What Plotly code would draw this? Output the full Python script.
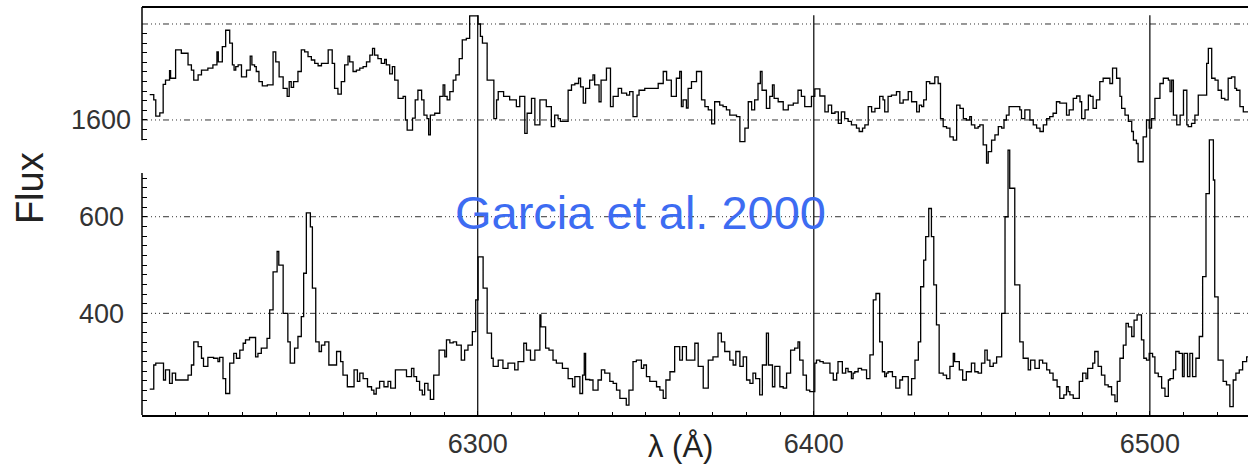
import plotly.graph_objects as go

# ---------------- data (step spectra, wavelength = start of each step) -------------
top_wave = [6202.4, 6203.6, 6204.2, 6205.4, 6206.4, 6207.1, 6208.3, 6208.6, 6210.1, 6211.8,
            6213.8, 6214.8, 6215.5, 6216.8, 6217.8, 6219.7, 6221.2, 6222.4, 6222.8, 6224.0,
            6225.0, 6226.2, 6227.0, 6227.5, 6228.0, 6228.7, 6229.7, 6231.2, 6232.3, 6232.8,
            6233.6, 6234.1, 6234.9, 6235.9, 6237.4, 6239.1, 6239.9, 6240.9, 6242.1, 6243.3,
            6243.9, 6244.5, 6245.2, 6246.5, 6247.5, 6248.5, 6249.5, 6250.5, 6251.5, 6252.5,
            6253.5, 6255.5, 6256.7, 6257.4, 6258.4, 6259.4, 6260.4, 6261.4, 6261.9, 6262.9,
            6263.9, 6264.9, 6265.9, 6266.9, 6267.9, 6268.7, 6269.3, 6270.3, 6271.3, 6272.3,
            6272.8, 6273.8, 6274.6, 6275.3, 6276.3, 6277.8, 6278.5, 6279.0, 6280.6, 6281.4,
            6282.2, 6283.3, 6284.0, 6284.9, 6285.4, 6285.9, 6287.2, 6288.7, 6289.7, 6290.2,
            6290.9, 6291.7, 6292.7, 6293.5, 6294.5, 6295.4, 6296.6, 6297.6, 6300.1, 6300.8,
            6301.4, 6302.8, 6304.8, 6305.6, 6306.1, 6307.7, 6309.5, 6311.5, 6312.5, 6314.0,
            6314.7, 6316.0, 6317.0, 6318.5, 6320.4, 6321.9, 6322.9, 6323.9, 6324.6, 6326.9,
            6327.9, 6328.9, 6330.0, 6330.6, 6331.4, 6332.1, 6333.3, 6334.3, 6334.8, 6336.1,
            6336.7, 6338.3, 6339.5, 6340.3, 6341.8, 6342.8, 6344.3, 6345.2, 6346.2, 6347.4,
            6348.0, 6349.7, 6353.7, 6355.2, 6356.2, 6357.6, 6359.1, 6360.1, 6360.6, 6361.1,
            6362.1, 6362.6, 6363.6, 6365.1, 6366.6, 6367.6, 6368.6, 6369.6, 6370.5, 6372.0,
            6373.0, 6374.0, 6375.0, 6377.0, 6378.0, 6379.5, 6380.5, 6381.5, 6382.4, 6383.4,
            6384.1, 6384.6, 6385.9, 6386.9, 6387.7, 6388.2, 6389.4, 6390.9, 6392.4, 6393.9,
            6395.3, 6396.3, 6397.3, 6399.3, 6400.3, 6401.8, 6403.3, 6404.3, 6405.3, 6406.3,
            6407.3, 6408.2, 6409.2, 6410.2, 6411.2, 6412.7, 6413.5, 6414.5, 6415.2, 6416.2,
            6417.2, 6418.2, 6419.6, 6420.6, 6421.1, 6422.1, 6423.1, 6424.6, 6425.6, 6426.6,
            6428.1, 6429.1, 6430.6, 6431.4, 6432.1, 6432.7, 6433.5, 6434.5, 6436.0, 6437.0,
            6437.7, 6438.5, 6439.5, 6440.5, 6441.5, 6442.5, 6443.5, 6444.5, 6445.4, 6446.4,
            6446.9, 6447.9, 6448.9, 6449.4, 6450.4, 6451.4, 6451.9, 6452.9, 6453.9, 6454.9,
            6455.9, 6456.6, 6457.3, 6458.1, 6461.3, 6461.8, 6462.8, 6464.3, 6465.3, 6466.3,
            6467.3, 6468.3, 6469.3, 6470.2, 6471.2, 6472.2, 6473.2, 6475.2, 6476.0, 6477.2,
            6478.2, 6479.2, 6479.7, 6480.7, 6481.7, 6482.3, 6483.1, 6484.1, 6485.1, 6486.1,
            6488.1, 6488.9, 6490.1, 6491.1, 6491.6, 6492.6, 6493.6, 6494.6, 6495.1, 6496.0,
            6496.5, 6498.0, 6499.0, 6499.8, 6500.5, 6501.5, 6503.0, 6504.0, 6505.5, 6506.0,
            6506.5, 6507.0, 6508.0, 6509.0, 6510.0, 6511.0, 6511.4, 6512.4, 6513.4, 6514.4,
            6516.9, 6517.4, 6518.4, 6519.4, 6520.3, 6521.3, 6522.3, 6523.3, 6524.3, 6525.3,
            6525.8, 6526.8, 6527.8]
top_flux = [1653, 1642, 1608, 1615, 1674, 1683, 1703, 1687, 1746, 1739,
            1715, 1704, 1683, 1694, 1704, 1708, 1715, 1742, 1721, 1753,
            1787, 1760, 1715, 1704, 1711, 1715, 1690, 1704, 1733, 1715,
            1711, 1701, 1680, 1671, 1673, 1742, 1721, 1690, 1666, 1649,
            1680, 1668, 1680, 1701, 1746, 1742, 1732, 1725, 1718, 1713,
            1718, 1746, 1718, 1666, 1654, 1680, 1715, 1733, 1721, 1701,
            1704, 1708, 1711, 1721, 1735, 1749, 1735, 1728, 1718, 1726,
            1715, 1696, 1711, 1683, 1645, 1649, 1600, 1579, 1604, 1642,
            1662, 1642, 1610, 1603, 1569, 1610, 1614, 1649, 1673, 1649,
            1642, 1659, 1683, 1694, 1728, 1767, 1770, 1817, 1800, 1774,
            1760, 1683, 1603, 1642, 1659, 1649, 1642, 1628, 1649, 1572,
            1614, 1645, 1590, 1642, 1628, 1586, 1610, 1603, 1597, 1662,
            1673, 1676, 1687, 1669, 1635, 1666, 1683, 1694, 1673, 1638,
            1683, 1708, 1628, 1649, 1666, 1656, 1652, 1659, 1607, 1652,
            1662, 1666, 1676, 1701, 1683, 1649, 1687, 1701, 1628, 1642,
            1625, 1666, 1680, 1701, 1642, 1628, 1621, 1592, 1638, 1631,
            1628, 1621, 1610, 1607, 1555, 1583, 1638, 1621, 1642, 1676,
            1701, 1662, 1624, 1649, 1673, 1645, 1638, 1621, 1631, 1635,
            1662, 1649, 1628, 1649, 1665, 1650, 1617, 1631, 1614, 1617,
            1593, 1617, 1603, 1597, 1590, 1583, 1576, 1583, 1590, 1628,
            1617, 1624, 1649, 1642, 1617, 1649, 1652, 1659, 1635, 1642,
            1659, 1638, 1617, 1631, 1628, 1642, 1680, 1676, 1690, 1676,
            1603, 1586, 1583, 1565, 1558, 1631, 1624, 1603, 1600, 1607,
            1590, 1583, 1586, 1590, 1548, 1510, 1534, 1558, 1569, 1586,
            1583, 1600, 1610, 1628, 1621, 1603, 1621, 1600, 1590, 1583,
            1576, 1590, 1603, 1607, 1614, 1638, 1635, 1610, 1621, 1645,
            1650, 1638, 1603, 1621, 1652, 1649, 1624, 1642, 1680, 1687,
            1676, 1708, 1687, 1649, 1624, 1610, 1597, 1576, 1558, 1551,
            1513, 1565, 1600, 1583, 1603, 1645, 1676, 1687, 1683, 1659,
            1683, 1610, 1590, 1610, 1662, 1590, 1586, 1593, 1610, 1652,
            1718, 1749, 1687, 1683, 1662, 1645, 1642, 1687, 1690, 1666,
            1662, 1628, 1617]

bot_wave = [6202.4, 6203.6, 6204.2, 6206.5, 6207.1, 6208.3, 6209.1, 6210.1, 6213.8, 6214.8,
            6215.5, 6216.8, 6217.8, 6218.4, 6219.7, 6221.4, 6222.7, 6223.2, 6224.2, 6225.0,
            6226.2, 6227.4, 6228.2, 6229.2, 6230.2, 6230.9, 6232.1, 6233.9, 6234.6, 6235.6,
            6237.3, 6238.1, 6239.1, 6240.3, 6240.8, 6242.1, 6243.5, 6244.2, 6245.5, 6246.5,
            6247.5, 6248.2, 6249.0, 6250.2, 6250.8, 6251.8, 6252.8, 6253.5, 6254.5, 6255.7,
            6258.0, 6259.2, 6259.9, 6261.2, 6263.2, 6264.2, 6264.9, 6265.9, 6267.2, 6268.4,
            6269.1, 6269.8, 6270.8, 6272.1, 6273.3, 6274.1, 6275.5, 6278.8, 6280.3, 6281.0,
            6281.8, 6282.7, 6283.5, 6284.2, 6285.2, 6285.9, 6286.9, 6288.5, 6290.2, 6290.7,
            6291.7, 6292.7, 6293.7, 6295.1, 6296.1, 6297.1, 6298.4, 6299.4, 6300.1, 6301.6,
            6302.8, 6304.1, 6304.6, 6306.1, 6307.5, 6309.0, 6311.0, 6312.0, 6313.7, 6314.5,
            6315.7, 6317.0, 6318.5, 6318.8, 6320.2, 6321.2, 6322.4, 6323.4, 6325.2, 6326.9,
            6328.2, 6328.9, 6330.4, 6331.2, 6331.7, 6332.1, 6333.3, 6334.3, 6335.8, 6336.8,
            6337.8, 6339.3, 6340.3, 6341.3, 6342.3, 6344.2, 6345.0, 6346.2, 6347.2, 6348.7,
            6349.4, 6350.2, 6351.2, 6353.2, 6354.2, 6355.2, 6356.0, 6357.2, 6358.6, 6360.1,
            6360.9, 6362.1, 6364.6, 6365.6, 6367.1, 6368.6, 6370.0, 6371.5, 6372.5, 6373.5,
            6375.0, 6376.0, 6376.8, 6378.0, 6379.0, 6380.0, 6381.0, 6381.9, 6382.7, 6383.9,
            6384.7, 6385.9, 6386.5, 6387.7, 6388.4, 6389.9, 6390.9, 6391.9, 6393.1, 6394.3,
            6395.3, 6395.8, 6396.8, 6397.8, 6398.8, 6400.3, 6400.8, 6401.8, 6402.8, 6404.8,
            6405.8, 6406.8, 6407.2, 6408.5, 6409.5, 6410.2, 6411.2, 6411.7, 6412.2, 6413.2,
            6414.2, 6415.7, 6416.7, 6417.7, 6418.5, 6419.6, 6420.4, 6421.1, 6421.6, 6422.1,
            6423.4, 6424.4, 6425.6, 6426.4, 6428.1, 6429.1, 6430.1, 6431.1, 6431.8, 6432.7,
            6433.3, 6434.2, 6435.0, 6435.7, 6436.5, 6437.3, 6438.5, 6439.5, 6440.5, 6441.5,
            6441.9, 6443.3, 6444.3, 6445.4, 6446.9, 6447.9, 6448.9, 6449.9, 6450.9, 6451.6,
            6452.4, 6453.4, 6454.4, 6455.9, 6456.9, 6457.8, 6458.3, 6459.8, 6461.3, 6462.3,
            6463.8, 6464.5, 6465.8, 6467.1, 6468.1, 6469.3, 6470.2, 6471.2, 6472.4, 6473.2,
            6474.4, 6475.2, 6475.7, 6476.2, 6477.2, 6479.0, 6480.0, 6481.0, 6481.5, 6483.0,
            6483.6, 6484.6, 6485.6, 6486.6, 6487.6, 6488.6, 6489.6, 6490.3, 6491.1, 6492.1,
            6492.9, 6493.6, 6494.6, 6495.3, 6496.2, 6497.5, 6498.2, 6499.0, 6499.8, 6500.8,
            6501.5, 6502.5, 6503.5, 6504.5, 6505.5, 6506.0, 6507.0, 6507.7, 6508.7, 6509.7,
            6510.2, 6511.2, 6511.9, 6512.7, 6513.7, 6514.7, 6515.7, 6516.7, 6517.7, 6518.9,
            6519.3, 6520.3, 6521.8, 6522.8, 6523.8, 6524.8, 6525.6, 6526.6, 6527.6, 6528.8]
bot_flux = [243, 293, 297, 262, 283, 255, 276, 262, 272, 293,
            341, 331, 307, 290, 309, 307, 300, 309, 265, 234,
            297, 317, 307, 324, 338, 345, 350, 310, 317, 328,
            348, 407, 486, 528, 500, 400, 341, 297, 328, 352,
            393, 483, 608, 579, 452, 341, 321, 334, 341, 293,
            321, 300, 272, 248, 283, 259, 276, 265, 248, 241,
            233, 245, 259, 248, 259, 245, 283, 269, 286, 269,
            259, 241, 231, 255, 241, 222, 272, 324, 310, 345,
            339, 341, 334, 303, 324, 334, 362, 428, 517, 452,
            359, 307, 290, 303, 286, 297, 283, 300, 338, 324,
            303, 324, 397, 372, 328, 324, 303, 297, 286, 265,
            248, 269, 234, 272, 317, 263, 262, 241, 262, 283,
            276, 259, 255, 241, 224, 210, 241, 300, 303, 286,
            293, 269, 259, 248, 241, 224, 262, 279, 331, 303,
            331, 303, 338, 290, 245, 303, 310, 359, 341, 321,
            303, 293, 321, 290, 310, 262, 255, 276, 265, 231,
            293, 359, 293, 248, 290, 248, 245, 276, 324, 328,
            341, 303, 272, 241, 238, 297, 303, 300, 297, 276,
            262, 276, 300, 276, 286, 279, 265, 276, 279, 286,
            283, 265, 314, 428, 441, 341, 279, 269, 276, 279,
            269, 245, 262, 269, 231, 265, 303, 341, 455, 510,
            559, 617, 559, 459, 376, 276, 272, 265, 290, 317,
            300, 283, 262, 279, 297, 279, 276, 297, 324, 303,
            290, 297, 310, 400, 600, 738, 659, 459, 341, 307,
            283, 303, 286, 303, 297, 283, 276, 262, 248, 224,
            231, 248, 238, 231, 224, 259, 276, 265, 286, 297,
            321, 290, 272, 252, 248, 231, 217, 259, 307, 334,
            379, 372, 352, 386, 397, 345, 307, 303, 317, 310,
            276, 269, 245, 228, 262, 265, 283, 321, 317, 269,
            317, 269, 317, 269, 307, 352, 476, 648, 759, 676,
            434, 303, 259, 252, 207, 262, 276, 283, 300, 310]

wave_end = 6530.0
x_range = [6200.1, 6529.2]
# data ranges (extended so the spectra can run past the drawn axis spines, as in the original)
top_range = [1495.8, 1835.4]
bot_range = [189.5, 800.5]
# drawn spine extents in data units
top_spine = [1558, 1835.4]
bot_spine = [189.5, 690.4]
x_tickvals = [6300, 6400, 6500]
x_minor = list(range(6210, 6530, 10))
top_tickvals = [1600]
top_minor = list(range(1560, 1800, 20))
bot_tickvals = [400, 600]
bot_minor = list(range(220, 700, 20))
top_grid = [1600, 1800]
bot_grid = [400, 600]
marker_lines = [6300, 6400, 6500]


def as_steps(w, f):
    return list(w) + [wave_end], list(f) + [f[-1]]


fig = go.Figure()
tx, ty = as_steps(top_wave, top_flux)
bx, by = as_steps(bot_wave, bot_flux)
line_style = dict(shape="hv", color="black", width=1.3)
fig.add_trace(go.Scatter(x=tx, y=ty, mode="lines", line=line_style,
                         xaxis="x", yaxis="y", showlegend=False, hoverinfo="skip"))
fig.add_trace(go.Scatter(x=bx, y=by, mode="lines", line=line_style,
                         xaxis="x", yaxis="y2", showlegend=False, hoverinfo="skip"))

tick_font = dict(family="Liberation Sans, Arial, sans-serif", size=27, color="#333")
dash = "6px,3px,1px,3px,1px,3px,1px,3px"

shapes = []
for g in top_grid:
    shapes.append(dict(type="line", xref="paper", x0=0, x1=1, yref="y", y0=g, y1=g,
                       line=dict(color="#333", width=1, dash=dash), layer="below"))
for g in bot_grid:
    shapes.append(dict(type="line", xref="paper", x0=0, x1=1, yref="y2", y0=g, y1=g,
                       line=dict(color="#333", width=1, dash=dash), layer="below"))
for v in marker_lines:
    shapes.append(dict(type="line", xref="x", x0=v, x1=v, yref="paper", y0=0, y1=0.98,
                       line=dict(color="black", width=1.2)))
# top frame line
shapes.append(dict(type="line", xref="paper", x0=0, x1=1, yref="paper", y0=1, y1=1,
                   line=dict(color="black", width=2)))
# left spines of both panels
shapes.append(dict(type="line", xref="paper", x0=0, x1=0, yref="y",
                   y0=top_spine[0], y1=top_spine[1], line=dict(color="black", width=1.5)))
shapes.append(dict(type="line", xref="paper", x0=0, x1=0, yref="y2",
                   y0=bot_spine[0], y1=bot_spine[1], line=dict(color="black", width=1.5)))

fig.update_layout(
    width=1248, height=466,
    margin=dict(l=142, r=0, t=7, b=51),
    paper_bgcolor="white", plot_bgcolor="rgba(0,0,0,0)",
    xaxis=dict(domain=[0, 1], range=x_range, anchor="y2",
               showline=True, linecolor="black", linewidth=1.5,
               ticks="inside", ticklen=4, tickcolor="black", tickwidth=1,
               tickmode="array", tickvals=x_tickvals, tickfont=tick_font,
               ticklabelstandoff=4,
               minor=dict(tickmode="array", tickvals=x_minor, ticks="inside",
                          ticklen=3, tickcolor="black", tickwidth=1),
               showgrid=False, zeroline=False),
    yaxis=dict(domain=[0.6005, 1], range=top_range, anchor="x",
               showline=False,
               ticks="inside", ticklen=5, tickcolor="black",
               tickmode="array", tickvals=top_tickvals, tickfont=tick_font,
               ticklabelstandoff=10,
               minor=dict(tickmode="array", tickvals=top_minor, ticks="inside",
                          ticklen=5, tickcolor="black"),
               showgrid=False, zeroline=False),
    yaxis2=dict(domain=[0, 0.7233], range=bot_range, anchor="x",
                showline=False,
                ticks="inside", ticklen=5, tickcolor="black",
                tickmode="array", tickvals=bot_tickvals, tickfont=tick_font,
                ticklabelstandoff=17,
                minor=dict(tickmode="array", tickvals=bot_minor, ticks="inside",
                           ticklen=5, tickcolor="black"),
                showgrid=False, zeroline=False),
    shapes=shapes,
    annotations=[
        dict(text="Flux", xref="paper", yref="paper", x=-0.1013, y=0.556,
             xanchor="center", yanchor="middle", textangle=-90, showarrow=False,
             font=dict(family="Liberation Sans, Arial, sans-serif", size=38, color="#222")),
        dict(text="λ (Å)", xref="paper", yref="paper", x=0.4873, y=-0.078,
             xanchor="center", yanchor="middle", showarrow=False,
             font=dict(family="Liberation Sans, Arial, sans-serif", size=31, color="#222")),
        dict(text="Garcia et al. 2000", xref="paper", yref="paper", x=0.4503, y=0.497,
             xanchor="center", yanchor="middle", showarrow=False,
             font=dict(family="Liberation Sans, Arial, sans-serif", size=47, color="#3d6cf2")),
    ],
)

fig.write_html("out.html")
